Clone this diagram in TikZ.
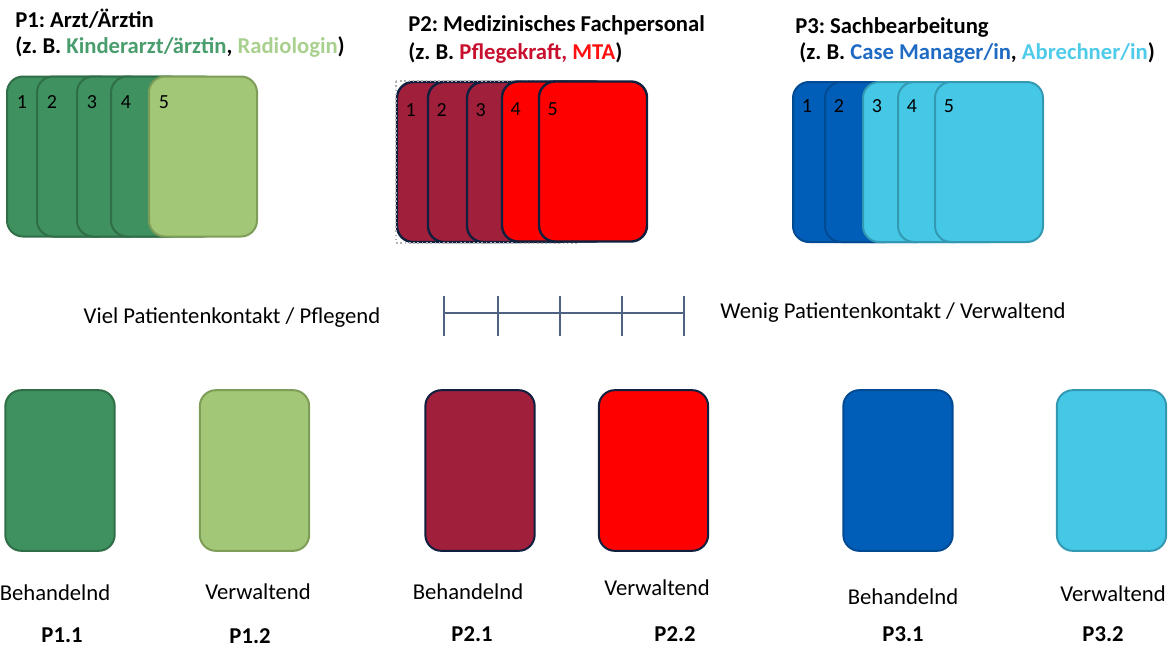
\documentclass[tikz,border=0pt]{standalone}
\usepackage{fontspec}
\setmainfont{Carlito}
\usetikzlibrary{positioning}
\frenchspacing

\definecolor{gdark}{HTML}{3F9160}
\definecolor{gdarkb}{HTML}{2F6E47}
\definecolor{glight}{HTML}{A2C777}
\definecolor{glightb}{HTML}{7E9E58}
\definecolor{rdark}{HTML}{A0203C}
\definecolor{rlight}{HTML}{FF0000}
\definecolor{navy}{HTML}{0F1F3D}
\definecolor{bdark}{HTML}{005EB8}
\definecolor{bdarkb}{HTML}{004A94}
\definecolor{blight}{HTML}{45C8E6}
\definecolor{blightb}{HTML}{3399B3}
\definecolor{scalecol}{HTML}{4F6282}
\definecolor{txtkinder}{HTML}{4A9E6E}
\definecolor{txtradio}{HTML}{A9D08E}
\definecolor{txtpflege}{HTML}{C8102E}
\definecolor{txtmta}{HTML}{FF1010}
\definecolor{txtcase}{HTML}{1F6BC4}
\definecolor{txtabr}{HTML}{4FCBEA}

\begin{document}
\begin{tikzpicture}[x=0.75pt,y=-0.75pt]
      \tikzstyle{card}=[rectangle,rounded corners=12pt,draw,
        line width=1.5pt,inner sep=0pt,
        minimum width=81pt,minimum height=120pt]
      \tikzstyle{bcard}=[card,minimum width=82pt,minimum height=120.5pt]
      \tikzstyle{num}=[font=\fontsize{15}{17}\selectfont]
      \tikzstyle{title}=[anchor=base west,inner sep=0pt,
        font=\fontsize{17}{20}\selectfont\bfseries]
      \tikzstyle{lbl}=[font=\fontsize{17}{20}\selectfont]
      \tikzstyle{pid}=[font=\fontsize{17}{20}\selectfont\bfseries]

      \useasboundingbox (0,0) rectangle (1170,647);

      % titles
      \node[title] (t1)  at (15,27) {P1: Arzt/Ärztin};
      \node[title] (t1b) at (15,53) {(z. B. \textcolor{txtkinder}{Kinderarzt/ärztin},
        \textcolor{txtradio}{Radiologin})};
      \node[title] (t2)  at (408,31) {P2: Medizinisches Fachpersonal};
      \node[title] (t2b) at (408,59) {(z. B. \textcolor{txtpflege}{Pflegekraft,}
        \textcolor{txtmta}{MTA})};
      \node[title] (t3)  at (795,33) {P3: Sachbearbeitung};
      \node[title] (t3b) at (799,59) {(z. B. \textcolor{txtcase}{Case Manager/in},
        \textcolor{txtabr}{Abrechner/in})};

      % stacked cards P1
      \foreach \l/\n/\f/\d in {7/1/gdark/gdarkb,37/2/gdark/gdarkb,
          77/3/gdark/gdarkb,111/4/gdark/gdarkb,149/5/glight/glightb}{
        \node[card,fill=\f,draw=\d] (a\n) at (\l+54,156.5) {};
        \node[num] at ([shift={(16,27)}]a\n.north west) {\n};
      }

      % stacked cards P2
      \foreach \l/\n in {397/1,428/2,467/3}{
        \node[card,fill=rdark,draw=navy,line width=1.8pt] (b\n) at (\l+54,162) {};
        \node[num] at ([shift={(15,29)}]b\n.north west) {\n};
      }
      \draw[gray!60,dotted,line width=1.2pt] (396,81) rectangle (576,243);
      \foreach \l/\n in {502/4,539/5}{
        \node[card,fill=rlight,draw=navy,line width=1.8pt] (b\n) at (\l+54,161.5) {};
        \node[num] at ([shift={(15,29)}]b\n.north west) {\n};
      }

      % stacked cards P3
      \foreach \l/\n/\f/\d in {793/1/bdark/bdarkb,825/2/bdark/bdarkb,
          863/3/blight/blightb,898/4/blight/blightb,935/5/blight/blightb}{
        \node[card,fill=\f,draw=\d] (c\n) at (\l+54,162) {};
        \node[num] at ([shift={(15,25)}]c\n.north west) {\n};
      }

      % scale
      \node[lbl] (viel)  at (232,318) {Viel Patientenkontakt / Pflegend};
      \node[lbl] (wenig) at (893,313) {Wenig Patientenkontakt / Verwaltend};
      \coordinate (sL) at (444,313);
      \coordinate (sR) at (684,313);
      \draw[scalecol,line width=1pt] (sL) -- (sR);
      \foreach \t in {444,498,560,622,684}
        \draw[scalecol,line width=1pt] (\t,296) -- (\t,336);

      % single cards
      \foreach \cx/\nm/\f/\d in {60/d11/gdark/gdarkb,254.5/d12/glight/glightb,
          480/d21/rdark/navy,653.5/d22/rlight/navy,
          898/d31/bdark/bdarkb,1111.5/d32/blight/blightb}
        \node[bcard,fill=\f,draw=\d] (\nm) at (\cx,470.5) {};

      \node[lbl] (l11) at (55,593)   {Behandelnd};
      \node[lbl] (l12) at (258,592)  {Verwaltend};
      \node[lbl] (l21) at (468,592)  {Behandelnd};
      \node[lbl] (l22) at (657,588)  {Verwaltend};
      \node[lbl] (l31) at (903,597)  {Behandelnd};
      \node[lbl] (l32) at (1113,594) {Verwaltend};

      \node[pid] (p11) at (62,635)   {P1.1};
      \node[pid] (p12) at (250,636)  {P1.2};
      \node[pid] (p21) at (472,634)  {P2.1};
      \node[pid] (p22) at (675,634)  {P2.2};
      \node[pid] (p31) at (903,634)  {P3.1};
      \node[pid] (p32) at (1103,634) {P3.2};
\end{tikzpicture}
\end{document}
